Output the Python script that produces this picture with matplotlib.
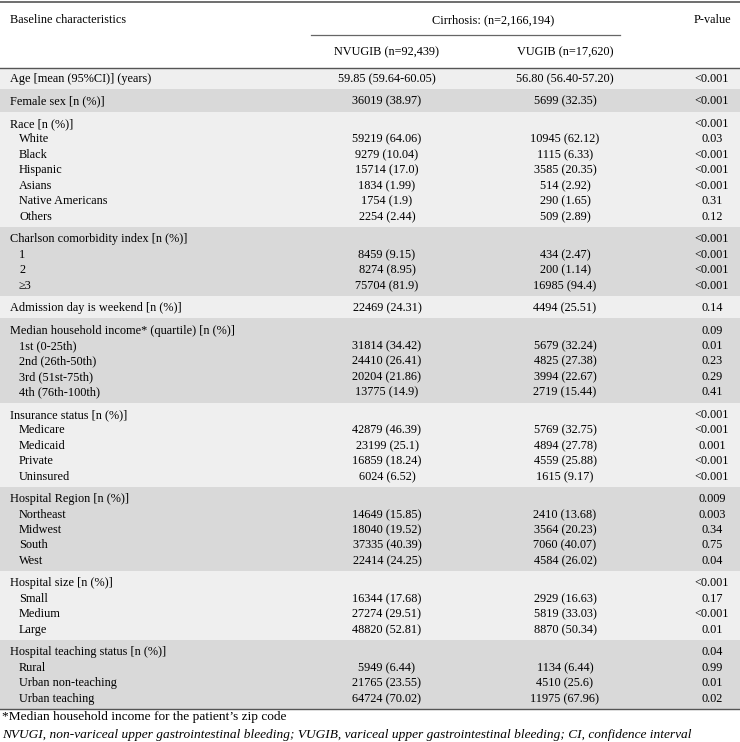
import matplotlib
matplotlib.use("Agg")
import matplotlib.pyplot as plt

plt.rcParams['font.family'] = ['Liberation Serif', 'DejaVu Serif']

# table content
col_headers = ["NVUGIB (n=92,439)", "VUGIB (n=17,620)"]
span_header = "Cirrhosis: (n=2,166,194)"

row_labels = [
    "Age [mean (95%CI)] (years)",
    "Female sex [n (%)]",
    "Race [n (%)]", "White", "Black", "Hispanic", "Asians", "Native Americans", "Others",
    "Charlson comorbidity index [n (%)]", "1", "2", "\u22653",
    "Admission day is weekend [n (%)]",
    "Median household income* (quartile) [n (%)]", "1st (0-25th)", "2nd (26th-50th)",
    "3rd (51st-75th)", "4th (76th-100th)",
    "Insurance status [n (%)]", "Medicare", "Medicaid", "Private", "Uninsured",
    "Hospital Region [n (%)]", "Northeast", "Midwest", "South", "West",
    "Hospital size [n (%)]", "Small", "Medium", "Large",
    "Hospital teaching status [n (%)]", "Rural", "Urban non-teaching", "Urban teaching",
]
nvugib = [
    "59.85 (59.64-60.05)",
    "36019 (38.97)",
    "", "59219 (64.06)", "9279 (10.04)", "15714 (17.0)", "1834 (1.99)", "1754 (1.9)", "2254 (2.44)",
    "", "8459 (9.15)", "8274 (8.95)", "75704 (81.9)",
    "22469 (24.31)",
    "", "31814 (34.42)", "24410 (26.41)", "20204 (21.86)", "13775 (14.9)",
    "", "42879 (46.39)", "23199 (25.1)", "16859 (18.24)", "6024 (6.52)",
    "", "14649 (15.85)", "18040 (19.52)", "37335 (40.39)", "22414 (24.25)",
    "", "16344 (17.68)", "27274 (29.51)", "48820 (52.81)",
    "", "5949 (6.44)", "21765 (23.55)", "64724 (70.02)",
]
vugib = [
    "56.80 (56.40-57.20)",
    "5699 (32.35)",
    "", "10945 (62.12)", "1115 (6.33)", "3585 (20.35)", "514 (2.92)", "290 (1.65)", "509 (2.89)",
    "", "434 (2.47)", "200 (1.14)", "16985 (94.4)",
    "4494 (25.51)",
    "", "5679 (32.24)", "4825 (27.38)", "3994 (22.67)", "2719 (15.44)",
    "", "5769 (32.75)", "4894 (27.78)", "4559 (25.88)", "1615 (9.17)",
    "", "2410 (13.68)", "3564 (20.23)", "7060 (40.07)", "4584 (26.02)",
    "", "2929 (16.63)", "5819 (33.03)", "8870 (50.34)",
    "", "1134 (6.44)", "4510 (25.6)", "11975 (67.96)",
]
p_values = [
    "<0.001",
    "<0.001",
    "<0.001", "0.03", "<0.001", "<0.001", "<0.001", "0.31", "0.12",
    "<0.001", "<0.001", "<0.001", "<0.001",
    "0.14",
    "0.09", "0.01", "0.23", "0.29", "0.41",
    "<0.001", "<0.001", "0.001", "<0.001", "<0.001",
    "0.009", "0.003", "0.34", "0.75", "0.04",
    "<0.001", "0.17", "<0.001", "0.01",
    "0.04", "0.99", "0.01", "0.02",
]
group_sizes = [1, 1, 7, 4, 1, 5, 5, 5, 4, 4]

footnote1 = "*Median household income for the patient\u2019s zip code"
footnote2 = ("NVUGI, non-variceal upper gastrointestinal bleeding; VUGIB, variceal upper "
             "gastrointestinal bleeding; CI, confidence interval")

fig = plt.figure(figsize=(7.4, 7.42), dpi=100)
ax = fig.add_axes([0, 0, 1, 1])
ax.set_xlim(0, 740)
ax.set_ylim(742, 0)
ax.axis('off')

fs = 8.8
bl = 4.0  # baseline offset below row centre, px
x_label, x_indent = 10, 19
x_nv, x_v, x_p = 387, 565, 712
light, dark = '#efefef', '#d9d9d9'
line_col = '#555555'


def put(x, y, s, ha='left', size=fs, **kw):
    ax.text(x, round(y) + bl, s, fontsize=size, va='baseline', ha=ha, **kw)


# header
ax.plot([0, 740], [2, 2], color=line_col, lw=1.2)
put(x_label, 19, "Baseline characteristics")
put(493, 19, span_header, ha='center')
put(x_p, 19, "P-value", ha='center')
ax.plot([311, 620], [34.5, 34.5], color='#666666', lw=0.9)
put(x_nv, 51, col_headers[0], ha='center')
put(x_v, 51, col_headers[1], ha='center')

# body
step, gap = 15.45, 22.5
y = 78
top = 67.5
i = 0
for g, n in enumerate(group_sizes):
    ys = [y + k * step for k in range(n)]
    bottom = ys[-1] + gap / 2
    ax.axhspan(top, bottom, color=light if g % 2 == 0 else dark, lw=0, zorder=0)
    for k, yy in enumerate(ys):
        idx = i + k
        put(x_label if k == 0 else x_indent, yy, row_labels[idx])
        put(x_nv, yy, nvugib[idx], ha='center')
        put(x_v, yy, vugib[idx], ha='center')
        put(x_p, yy, p_values[idx], ha='center')
    i += n
    top = bottom
    y = ys[-1] + gap

ax.plot([0, 740], [67.5, 67.5], color=line_col, lw=1.0)
ax.plot([0, 740], [top, top], color=line_col, lw=1.0)

put(2, 716, footnote1, size=9.6)
put(2, 734, footnote2, size=9.6, style='italic')

fig.savefig("out.png", dpi=100)
